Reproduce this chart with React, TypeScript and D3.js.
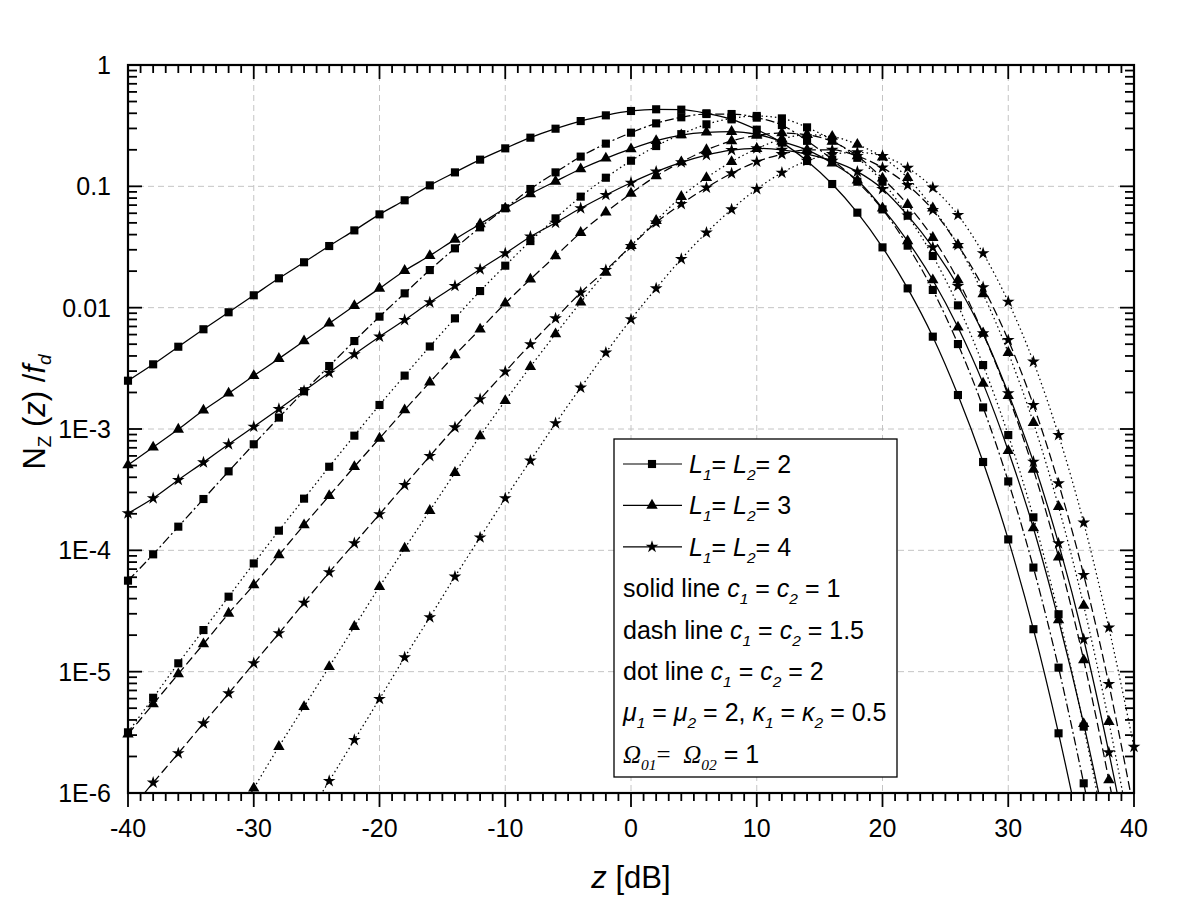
import React from 'react';
import * as d3 from 'd3';

// z [dB] positions of the computed points (one marker every 2 dB)
const zDb = [-40, -38, -36, -34, -32, -30, -28, -26, -24, -22, -20, -18, -16, -14, -12, -10, -8, -6, -4, -2,
  0, 2, 4, 6, 8, 10, 12, 14, 16, 18, 20, 22, 24, 26, 28, 30, 32, 34, 36, 38, 40];

// log10 of N_Z(z)/f_d (null = off the chart)
const logL2c1 = [-2.602, -2.467, -2.322, -2.178, -2.038, -1.898, -1.758, -1.626, -1.492, -1.363, -1.231, -1.115, -0.992, -0.885, -0.780, -0.687, -0.599, -0.525, -0.462, -0.415,
  -0.379, -0.365, -0.368, -0.398, -0.448, -0.533, -0.640, -0.791, -0.981, -1.217, -1.503, -1.841, -2.239, -2.720, -3.272, -3.910, -4.650, -5.508, -6.470, null, null];
const logL3c1 = [-3.297, -3.151, -3.003, -2.846, -2.706, -2.561, -2.420, -2.275, -2.129, -1.984, -1.841, -1.695, -1.572, -1.437, -1.310, -1.181, -1.063, -0.959, -0.857, -0.769,
  -0.692, -0.624, -0.577, -0.555, -0.549, -0.571, -0.630, -0.700, -0.810, -0.950, -1.180, -1.451, -1.772, -2.162, -2.624, -3.179, -3.816, -4.574, -5.430, -6.400, null];
const logL4c1 = [-3.695, -3.571, -3.420, -3.275, -3.126, -2.981, -2.835, -2.687, -2.536, -2.384, -2.239, -2.102, -1.956, -1.821, -1.684, -1.552, -1.415, -1.300, -1.181, -1.071,
  -0.970, -0.879, -0.802, -0.742, -0.701, -0.687, -0.700, -0.735, -0.790, -0.879, -1.022, -1.240, -1.503, -1.821, -2.212, -2.706, -3.270, -3.943, -4.733, -5.665, -6.700];
const logL2c15 = [-4.250, -4.033, -3.805, -3.577, -3.349, -3.126, -2.906, -2.689, -2.481, -2.275, -2.074, -1.882, -1.690, -1.511, -1.338, -1.181, -1.022, -0.885, -0.755, -0.648,
  -0.558, -0.481, -0.431, -0.404, -0.404, -0.434, -0.495, -0.625, -0.780, -0.962, -1.190, -1.489, -1.854, -2.300, -2.822, -3.432, -4.142, -4.967, -5.920, -6.950, null];
const logL3c15 = [-5.515, -5.267, -5.019, -4.772, -4.520, -4.286, -4.039, -3.791, -3.550, -3.311, -3.077, -2.843, -2.615, -2.390, -2.178, -1.964, -1.766, -1.574, -1.382, -1.214,
  -1.058, -0.915, -0.800, -0.700, -0.626, -0.580, -0.560, -0.575, -0.630, -0.750, -0.934, -1.151, -1.423, -1.772, -2.212, -2.725, -3.333, -4.056, -4.904, -5.893, -7.000];
const logL4c15 = [-6.160, -5.915, -5.673, -5.426, -5.179, -4.931, -4.684, -4.432, -4.181, -3.942, -3.703, -3.462, -3.223, -2.987, -2.755, -2.527, -2.302, -2.088, -1.876, -1.690,
  -1.492, -1.299, -1.146, -1.011, -0.893, -0.797, -0.735, -0.700, -0.700, -0.750, -0.846, -0.990, -1.195, -1.484, -1.832, -2.267, -2.802, -3.448, -4.203, -5.102, -6.150];
const logL2c2 = [-5.500, -5.215, -4.931, -4.657, -4.382, -4.108, -3.838, -3.574, -3.311, -3.055, -2.802, -2.560, -2.320, -2.088, -1.863, -1.654, -1.451, -1.264, -1.085, -0.929,
  -0.789, -0.668, -0.570, -0.489, -0.440, -0.420, -0.440, -0.514, -0.620, -0.765, -0.962, -1.242, -1.574, -1.981, -2.473, -3.050, -3.728, -4.527, -5.453, -6.500, null];
const logL3c2 = [null, null, null, null, -6.310, -5.961, -5.618, -5.289, -4.959, -4.629, -4.300, -3.984, -3.673, -3.360, -3.058, -2.767, -2.487, -2.217, -1.956, -1.709,
  -1.489, -1.283, -1.085, -0.929, -0.797, -0.690, -0.610, -0.575, -0.590, -0.655, -0.761, -0.930, -1.180, -1.484, -1.887, -2.371, -2.948, -3.640, -4.455, -5.412, -6.500];
const logL4c2 = [null, null, null, null, null, null, null, -6.240, -5.901, -5.563, -5.225, -4.882, -4.552, -4.217, -3.894, -3.571, -3.261, -2.953, -2.659, -2.371,
  -2.096, -1.841, -1.599, -1.382, -1.190, -1.022, -0.888, -0.790, -0.735, -0.720, -0.750, -0.848, -1.011, -1.236, -1.552, -1.951, -2.445, -3.050, -3.772, -4.637, -5.620];

const xTickLabels = ['-40', '-30', '-20', '-10', '0', '10', '20', '30', '40'];
const yTickLabels = ['1E-6', '1E-5', '1E-4', '1E-3', '0.01', '0.1', '1'];

const SQ = d3.symbolSquare, TRI = d3.symbolTriangle, STAR = d3.symbolStar;
const DASH = '9,4', DASHDOT = '9,3,2,3', DOT = '1.5,3';

const series = [
  { vals: logL2c1, sym: SQ, dash: null },
  { vals: logL3c1, sym: TRI, dash: null },
  { vals: logL4c1, sym: STAR, dash: null },
  { vals: logL2c15, sym: SQ, dash: DASHDOT },
  { vals: logL3c15, sym: TRI, dash: DASH },
  { vals: logL4c15, sym: STAR, dash: DASH },
  { vals: logL2c2, sym: SQ, dash: DOT },
  { vals: logL3c2, sym: TRI, dash: DOT },
  { vals: logL4c2, sym: STAR, dash: DOT },
];

const symSize = (t) => (t === SQ ? 66 : t === TRI ? 56 : 50);
const symPath = (t) => d3.symbol().type(t).size(symSize(t))();

const FONT = '"Liberation Sans", Arial, sans-serif';
const SERIF = '"Liberation Serif", "Times New Roman", serif';

// rich text pieces: [text, italic?, sub?, serif?]
function Rich({ x, y, parts, size }) {
  let shift = 0;
  return (
    <text x={x} y={y} fontSize={size} fontFamily={FONT} fill="#000" xmlSpace="preserve">
      {parts.map((p, i) => {
        const [t, it, sub, serif] = p;
        const want = sub ? 7 : 0;
        const dy = want - shift;
        shift = want;
        return (
          <tspan key={i} dy={dy} fontStyle={it ? 'italic' : 'normal'}
            fontSize={sub ? size * 0.62 : size} fontFamily={serif ? SERIF : FONT}>{t}</tspan>
        );
      })}
    </text>
  );
}

export default function App() {
  const left = 128, right = 1134, top = 65, bottom = 793;
  const x = d3.scaleLinear().domain([-40, 40]).range([left, right]);
  const y = d3.scaleLog().domain([1e-6, 1]).range([bottom, top]);

  const line = d3.line()
    .defined((d) => d[1] !== null)
    .x((d) => x(d[0]))
    .y((d) => y(Math.pow(10, d[1])))
    .curve(d3.curveMonotoneX);

  const majorX = x.ticks(8);
  const minorX = d3.range(-40, 41, 1);
  const majorY = [1e-6, 1e-5, 1e-4, 1e-3, 1e-2, 1e-1, 1];
  const minorY = y.ticks();

  const legX = 614, legY = 439, legW = 283, legH = 338;
  const rowY = (i) => 473 + i * 41.4;
  const legendRows = [
    [['L', 1], ['1', 1, 1], ['= '], ['L', 1], ['2', 1, 1], ['= 2']],
    [['L', 1], ['1', 1, 1], ['= '], ['L', 1], ['2', 1, 1], ['= 3']],
    [['L', 1], ['1', 1, 1], ['= '], ['L', 1], ['2', 1, 1], ['= 4']],
    [['solid line '], ['c', 1], ['1', 1, 1], [' = '], ['c', 1], ['2', 1, 1], [' = 1']],
    [['dash line '], ['c', 1], ['1', 1, 1], [' = '], ['c', 1], ['2', 1, 1], [' = 1.5']],
    [['dot line '], ['c', 1], ['1', 1, 1], [' = '], ['c', 1], ['2', 1, 1], [' = 2']],
    [['\u03bc', 1], ['1', 1, 1], [' = '], ['\u03bc', 1], ['2', 1, 1], [' = 2, '], ['\u03ba', 1], ['1', 1, 1], [' = '], ['\u03ba', 1], ['2', 1, 1], [' = 0.5']],
    [['\u03a9', 1, 0, 1], ['01', 1, 1, 1], ['=  ', 0, 0, 1], ['\u03a9', 1, 0, 1], ['02', 1, 1, 1], [' = 1']],
  ];

  return (
    <div style={{ position: 'absolute', left: 0, top: 0 }}>
      <svg width={1200} height={897} style={{ display: 'block', background: '#fff' }}>
        <defs>
          <clipPath id="plotClip">
            <rect x={left} y={top} width={right - left} height={bottom - top} />
          </clipPath>
        </defs>

        {/* grid */}
        <g stroke="#c4c4c4" strokeWidth={1} strokeDasharray="6,4">
          {majorX.filter((v) => v > -40 && v < 40).map((v) => (
            <line key={'gx' + v} x1={x(v)} x2={x(v)} y1={top} y2={bottom} />
          ))}
          {majorY.filter((v) => v > 1e-6 && v < 1).map((v) => (
            <line key={'gy' + v} x1={left} x2={right} y1={y(v)} y2={y(v)} />
          ))}
        </g>

        {/* data */}
        <g clipPath="url(#plotClip)">
          {series.map((s, i) => (
            <path key={'l' + i} d={line(zDb.map((z, j) => [z, s.vals[j]]))} fill="none"
              stroke="#000" strokeWidth={1.25} strokeDasharray={s.dash || undefined} />
          ))}
        </g>
        {series.map((s, i) => (
          <g key={'m' + i}>
            {zDb.map((z, j) => {
              const v = s.vals[j];
              if (v === null || v < -6.02 || v > 0) return null;
              return <path key={j} d={symPath(s.sym)} transform={`translate(${x(z)},${y(Math.pow(10, v))})`} fill="#000" />;
            })}
          </g>
        ))}

        {/* ticks */}
        <g stroke="#000" strokeWidth={1.8}>
          {minorX.map((v) => {
            const major = v % 10 === 0;
            const len = major ? 14 : 8;
            return (
              <g key={'tx' + v}>
                <line x1={x(v)} x2={x(v)} y1={bottom} y2={bottom + len} />
                <line x1={x(v)} x2={x(v)} y1={top} y2={top + len} />
              </g>
            );
          })}
          {minorY.map((v, i) => {
            const major = majorY.some((m) => Math.abs(m - v) / m < 1e-6);
            const len = major ? 14 : 9;
            return (
              <g key={'ty' + i}>
                <line x1={left} x2={left + len} y1={y(v)} y2={y(v)} />
                <line x1={right} x2={right - len} y1={y(v)} y2={y(v)} />
              </g>
            );
          })}
        </g>
        <rect x={left} y={top} width={right - left} height={bottom - top} fill="none" stroke="#000" strokeWidth={2.2} />

        {/* tick labels */}
        <g fontFamily={FONT} fontSize={25} fill="#000">
          {majorX.map((v, i) => (
            <text key={'lx' + v} x={x(v)} y={837} textAnchor="middle">{xTickLabels[i]}</text>
          ))}
          {majorY.map((v, i) => (
            <text key={'ly' + i} x={111} y={y(v) + 9} textAnchor="end">{yTickLabels[i]}</text>
          ))}
        </g>

        {/* axis titles */}
        <text x={(left + right) / 2} y={888} textAnchor="middle" fontFamily={FONT} fontSize={31}>
          <tspan fontStyle="italic">z</tspan> [dB]
        </text>
        <text transform="translate(45,412) rotate(-90)" textAnchor="middle" fontFamily={FONT} fontSize={31}>
          N<tspan fontSize={19} dy={6}>Z</tspan><tspan dy={-6}>{'\u00a0('}</tspan><tspan fontStyle="italic">z</tspan>{') /'}<tspan fontStyle="italic">f</tspan><tspan fontStyle="italic" fontSize={19} dy={6}>d</tspan>
        </text>

        {/* legend */}
        <rect x={legX} y={legY} width={legW} height={legH} fill="#fff" stroke="#000" strokeWidth={1.3} />
        {[SQ, TRI, STAR].map((t, i) => (
          <g key={'lg' + i}>
            <line x1={623} x2={682} y1={rowY(i) - 9} y2={rowY(i) - 9} stroke="#000" strokeWidth={1.2} />
            <path d={symPath(t)} transform={`translate(652,${rowY(i) - 9})`} fill="#000" />
          </g>
        ))}
        {legendRows.map((parts, i) => (
          <Rich key={'lt' + i} x={i < 3 ? 689 : 623} y={rowY(i)} parts={parts} size={25} />
        ))}
      </svg>
    </div>
  );
}
